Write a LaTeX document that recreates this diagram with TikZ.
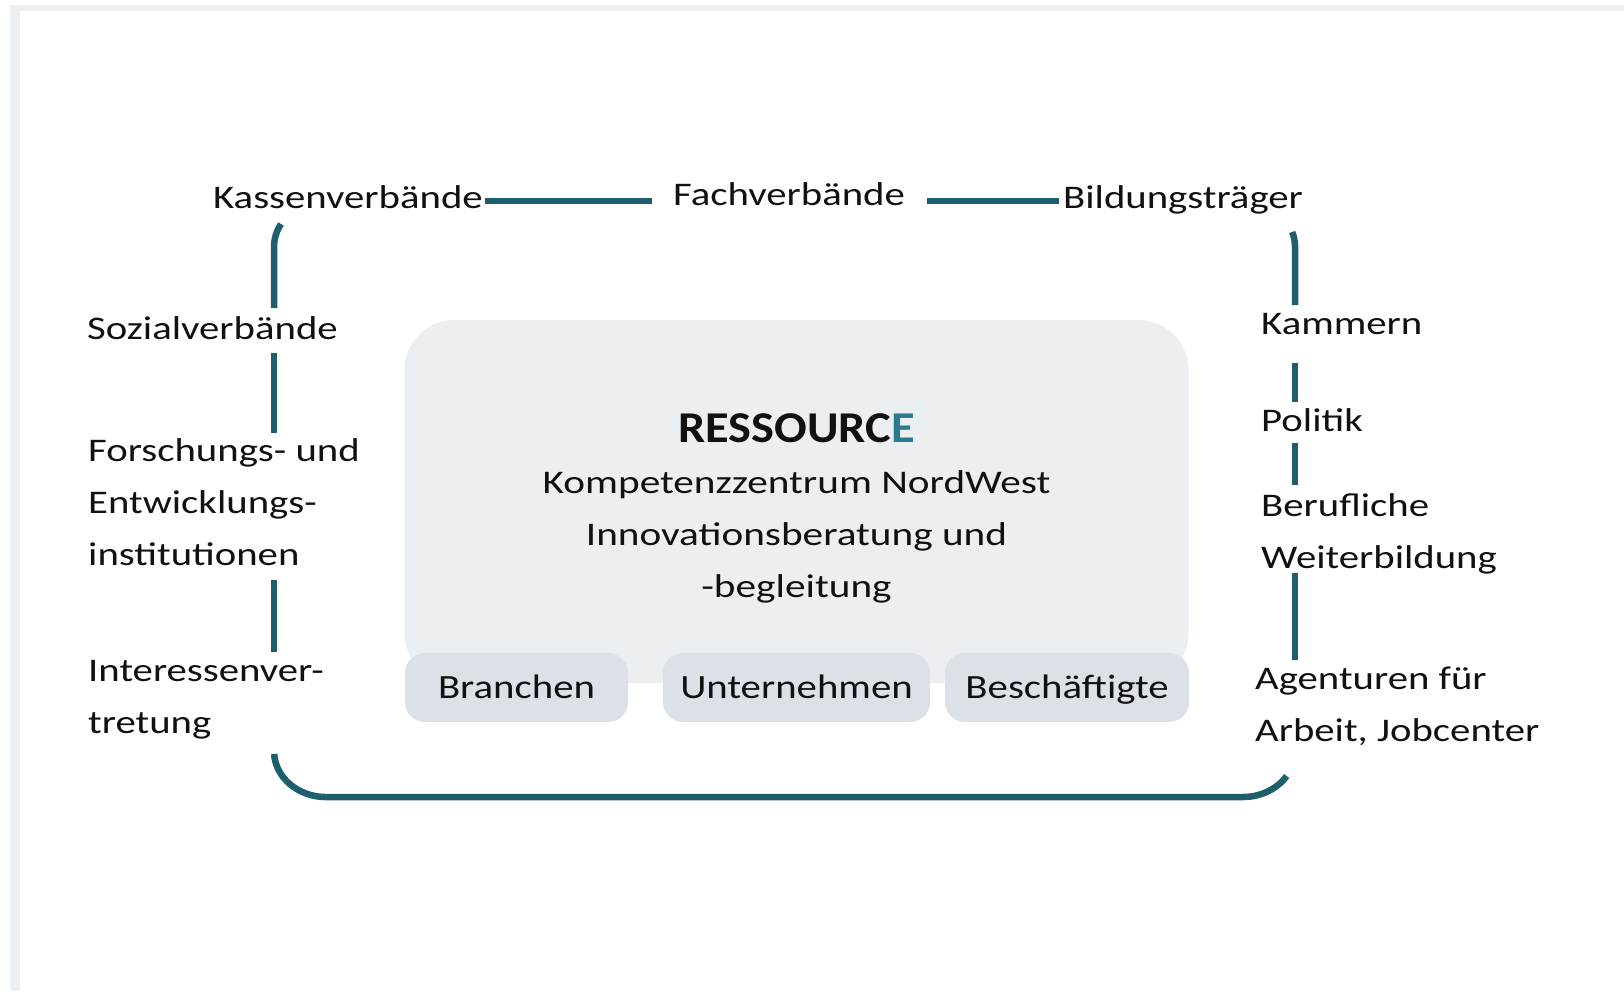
\documentclass[tikz,border=0pt]{standalone}
\usepackage{fontspec}
\setmainfont{Carlito}
\newfontfamily\labfont{Carlito}[FakeStretch=1.235]
\newfontfamily\midfont{Carlito}[FakeStretch=1.25]
\newfontfamily\chipfont{Carlito}[FakeStretch=1.2]
\newfontfamily\titfont{Carlito}[FakeStretch=1.1]
\definecolor{linecol}{HTML}{1D5F6D}
\definecolor{titlee}{HTML}{2A7C8C}
\definecolor{boxcol}{HTML}{ECEFF2}
\definecolor{chipcol}{HTML}{DBE1E7}
\definecolor{framecol}{HTML}{ECF0F3}
\definecolor{txtcol}{HTML}{111111}
\begin{document}
\begin{tikzpicture}[x=1pt,y=-1pt,
  conn/.style={draw=linecol,line width=6.5pt},
  lab/.style={font=\labfont\fontsize{33}{51.7}\selectfont,text=txtcol,inner sep=0pt,anchor=base west,align=left},
  chip/.style={fill=chipcol,rounded corners=20pt,inner sep=0pt,text=txtcol,
    font=\chipfont\fontsize{34}{40}\selectfont,text height=22pt,text depth=0pt},
  corebox/.style={fill=boxcol,rounded corners=50pt,inner sep=0pt,minimum width=784pt,minimum height=363pt}
]
\useasboundingbox (0,0) rectangle (1624,991);
\fill[white] (0,0) rectangle (1624,991);
% frame
\fill[framecol] (10,5) rectangle (1624,11);
\fill[framecol] (10,5) rectangle (20,991);

% central box and chips
\node[corebox] (core) at (796.5,501.5) {};
\node[chip,minimum width=223pt,minimum height=69pt] (branchen) at (516.5,687.5) {Branchen};
\node[chip,minimum width=267pt,minimum height=69pt] (unternehmen) at (796.5,687.5) {Unternehmen};
\node[chip,minimum width=244pt,minimum height=69pt] (besch) at (1067,687.5) {Beschäftigte};

\node[inner sep=0pt,anchor=base,text=txtcol,font=\titfont\bfseries\fontsize{44}{50}\selectfont] (title) at (796.5,442) {RESSOURC\textcolor{titlee}{E}};
\node[inner sep=0pt,anchor=base,align=center,text=txtcol,font=\midfont\fontsize{33}{51.9}\selectfont] (subtitle) at (796.5,597) {Kompetenzzentrum NordWest\\Innovationsberatung und\\-begleitung};

% labels (anchor = baseline of last line)
\node[lab] (kassen) at (213,208) {Kassenverbände};
\node[lab] (fach) at (673,205) {Fachverbände};
\node[lab] (bildung) at (1063,208) {Bildungsträger};
\node[lab] (sozial) at (87,339) {Sozialverbände};
\node[lab] (forsch) at (88,565) {Forschungs- und\\Entwicklungs-\\institutionen};
\node[lab] (interessen) at (88,733) {Interessenver-\\tretung};
\node[lab] (kammern) at (1261,334) {Kammern};
\node[lab] (politik) at (1261,431) {Politik};
\node[lab] (beruf) at (1261,568) {Berufliche\\Weiterbildung};
\node[lab] (agentur) at (1255,741) {Agenturen für\\Arbeit, Jobcenter};

% connector end points
\coordinate (t1a) at (485,201); \coordinate (t1b) at (652,201);
\coordinate (t2a) at (927,201); \coordinate (t2b) at (1059,201);
\coordinate (l0) at (281,224); \coordinate (l1) at (274,308);
\coordinate (l2) at (274,353); \coordinate (l3) at (274,433);
\coordinate (l4) at (274,580); \coordinate (l5) at (274,652);
\coordinate (l6) at (274.1,754); \coordinate (bot) at (1243,797);
\coordinate (r0) at (1292.2,232); \coordinate (r1) at (1295,305);
\coordinate (r2) at (1295,363); \coordinate (r3) at (1295,402);
\coordinate (r4) at (1295,443); \coordinate (r5) at (1295,485);
\coordinate (r6) at (1295,573); \coordinate (r7) at (1295,660);

% connectors
\draw[conn] (t1a) -- (t1b);
\draw[conn] (t2a) -- (t2b);
\draw[conn] (l0) arc[start angle=210,end angle=180,x radius=52,y radius=46] -- (l1);
\draw[conn] (l2) -- (l3);
\draw[conn] (l4) -- (l5);
\draw[conn] (l6) arc[start angle=176.3,end angle=90,x radius=52,y radius=46] -- (bot)
  arc[start angle=90,end angle=32.9,x radius=52,y radius=46];
\draw[conn] (r0) arc[start angle=341,end angle=360,x radius=52,y radius=46] -- (r1);
\draw[conn] (r2) -- (r3);
\draw[conn] (r4) -- (r5);
\draw[conn] (r6) -- (r7);
\end{tikzpicture}
\end{document}
